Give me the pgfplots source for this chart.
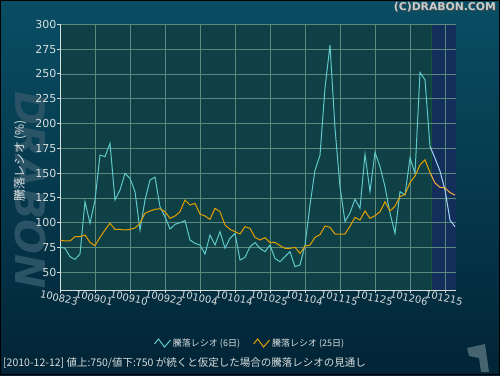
\documentclass[border=0pt]{standalone}
\usepackage{pgfplots}
\pgfplotsset{compat=1.18}
\usepackage{fontspec}
\setmainfont{DejaVu Sans}
\newfontfamily\cjk{Noto Sans CJK JP}
\definecolor{bgtop}{RGB}{9,78,100}
\definecolor{bgbot}{RGB}{2,36,54}
\definecolor{plotbg}{RGB}{14,64,70}
\definecolor{fcbg}{RGB}{20,46,92}
\definecolor{gridc}{RGB}{90,138,126}
\definecolor{cyanl}{RGB}{96,200,200}
\definecolor{orl}{RGB}{228,160,0}
\definecolor{cyanf}{RGB}{160,212,240}
\definecolor{orf}{RGB}{245,175,60}
\definecolor{txt}{RGB}{215,222,222}
\definecolor{wm}{RGB}{42,84,102}
\definecolor{sepg}{RGB}{20,82,52}
\definecolor{logoc}{RGB}{70,100,112}
\definecolor{copc}{RGB}{200,206,206}

\pgfplotstableread{
i v
0 75.8
1 74.2
2 65.8
3 63.1
4 68.5
5 121.2
6 99.4
7 122.9
8 168.2
9 166.6
10 180
11 122.9
12 133
13 149.8
14 144.7
15 131.3
16 92.7
17 122.9
18 143
19 146
20 116.2
21 106.1
22 93.7
23 98.4
24 100.1
25 102.1
26 82.6
27 79.2
28 77.5
29 68.5
30 87.6
31 77.5
32 91
33 74.2
34 84.3
35 89.3
36 62.4
37 65.1
38 75.8
39 80
40 74.2
41 70.8
42 77.5
43 64.1
44 60.7
45 65.8
46 70.8
47 55.7
48 57.4
49 77.5
50 117.9
51 153
52 168
53 236
54 279
55 195
56 136
57 101.1
58 110
59 123.6
60 114.5
61 169
62 131.3
63 171
64 156.5
65 136.3
66 109.5
67 89.3
68 131.3
69 127.9
70 165.5
71 149.8
72 251.5
73 244
74 177
}\sixd

\pgfplotstableread{
i v
74 177
75 165
76 152
77 133
78 102.7
79 96
}\sixf

\pgfplotstableread{
i v
0 82.6
1 81.6
2 81.6
3 86
4 86
5 87.6
6 80.2
7 76.9
8 85.3
9 92.7
10 99.4
11 93.3
12 93.3
13 92.7
14 93.3
15 94.7
16 99.4
17 109.5
18 111.8
19 113.5
20 114.1
21 111.1
22 104.4
23 106.8
24 111.1
25 122.9
26 117.9
27 119.5
28 108.8
29 106.8
30 103.4
31 114.5
32 111.1
33 97.7
34 93.3
35 91
36 88.6
37 96
38 94.3
39 85.3
40 82.6
41 85
42 80
43 80.2
44 76.9
45 74.2
46 74.2
47 75.2
48 69.1
49 76.5
50 77.5
51 85.3
52 88
53 96.7
54 95.3
55 88.6
56 88.6
57 88.6
58 96.5
59 105.4
60 102.7
61 111.8
62 104.4
63 107.1
64 111.1
65 121.2
66 111.8
67 116.8
68 126.3
69 128.6
70 140.4
71 147.1
72 158.2
73 163.5
74 150.4
}\tfd

\pgfplotstableread{
i v
74 150.4
75 140
76 135.7
77 135.2
78 130.3
79 127.9
}\tff

\begin{document}
\begin{tikzpicture}[x=1pt,y=1pt]
\fill[top color=bgtop, bottom color=bgbot] (0,0) rectangle (500,375);
\node[rotate=-90, font=\fontsize{41}{41}\selectfont\bfseries\itshape, text=wm] at (30,185) {DRABON};
\fill[logoc] (467,27) -- (485,31) -- (489,3) -- (481,3) -- (479,17) -- (469,19) -- cycle;
% plot area backgrounds (actual data region and forecast region)
\fill[plotbg] (60,85) rectangle (431,350.7);
\fill[fcbg] (431,85) rectangle (456,350.7);
\draw[sepg, line width=1pt] (431,85) -- (431,350.7);
\begin{axis}[
  at={(60pt,85pt)}, anchor=south west,
  scale only axis, width=396pt, height=265.7pt,
  xmin=0, xmax=79.2, ymin=32.2, ymax=300,
  axis x line=bottom, axis y line=left,
  axis line style={-, draw=txt, line width=1pt},
  xtick={0,7,...,77},
  xticklabels={100823,100901,100910,100922,101004,101014,101025,101104,101115,101125,101206,101215},
  ytick={50,75,...,300},
  grid=major,
  major grid style={draw=gridc, line width=0.8pt},
  tick style={draw=txt, line width=1pt},
  major tick length=3pt,
  tick align=outside,
  /pgf/number format/assume math mode=true,
  yticklabel style={font=\fontsize{11}{11}\selectfont, text=txt, inner sep=0pt, xshift=-0.5pt},
  xticklabel style={font=\fontsize{10}{10}\selectfont, text=txt, rotate=-12, anchor=north, inner sep=1pt},
  legend style={at={(axis description cs:0.48,-0.1995)}, anchor=center, draw=none, fill=none,
    text=txt, font=\cjk\fontsize{9}{9}\selectfont, legend columns=2,
    /tikz/every even column/.append style={column sep=11pt}},
  legend image code/.code={\draw[#1, line width=1pt] (0pt,-1pt)--(4pt,4pt)--(10pt,-4pt)--(16pt,3pt);},
]
\addplot[cyanl, line width=1pt] table[x=i,y=v] {\sixd};
\addlegendentry{騰落レシオ (6日)}
\addplot[cyanf, line width=1pt, forget plot] table[x=i,y=v] {\sixf};
\addplot[orl, line width=1pt] table[x=i,y=v] {\tfd};
\addlegendentry{騰落レシオ (25日)}
\addplot[orf, line width=1pt, forget plot] table[x=i,y=v] {\tff};
\end{axis}
\node[rotate=90, font=\cjk\fontsize{12}{12}\selectfont, text=txt] at (20,214) {騰落レシオ (\%)};
\node[anchor=base west, font=\cjk\fontsize{10.5}{10.5}\selectfont, text=txt, inner sep=0] at (3,9) {[2010-12-12] 値上:750/値下:750 が続くと仮定した場合の騰落レシオの見通し};
\node[anchor=north east, font=\bfseries\fontsize{10.8}{10.8}\selectfont, text=black!70, inner sep=0] at (497,372) {(C)DRABON.COM};
\node[anchor=north east, font=\bfseries\fontsize{10.8}{10.8}\selectfont, text=copc, inner sep=0] at (496,373) {(C)DRABON.COM};
\draw[black, line width=1pt] (0.5,0.5) rectangle (499.5,374.5);
\end{tikzpicture}
\end{document}
